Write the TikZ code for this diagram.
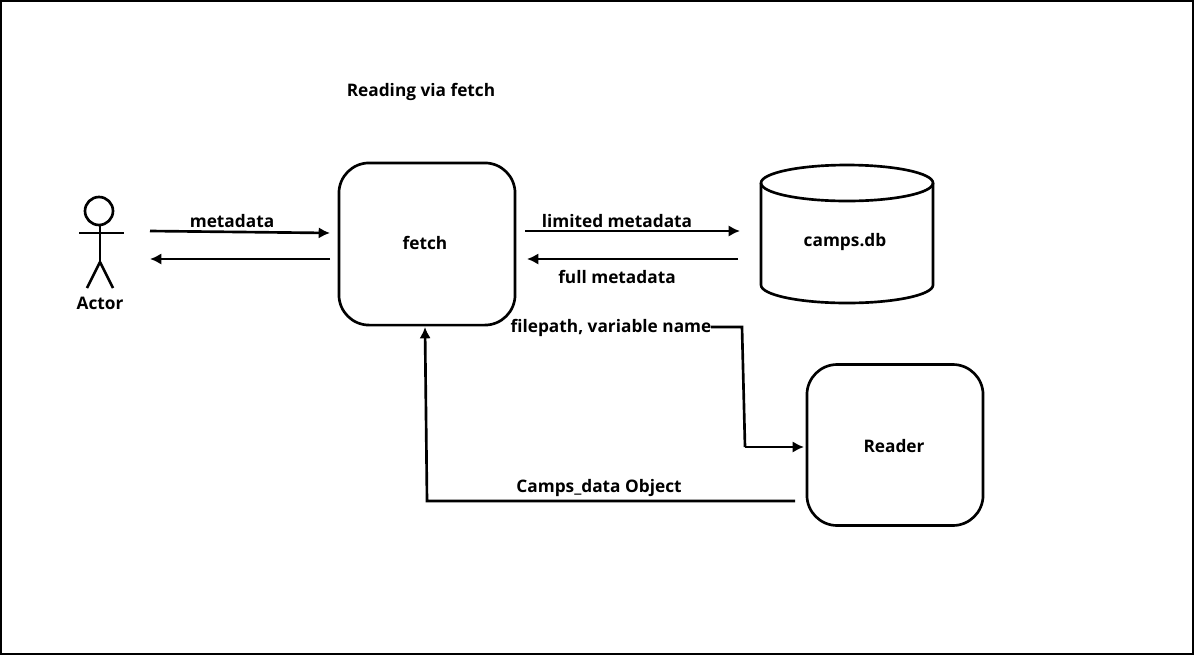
\documentclass[tikz,border=0pt]{standalone}
\usepackage{fontspec}
\setmainfont{Open Sans}
\usetikzlibrary{arrows.meta}
\tikzset{>={Latex[length=8.5pt,width=8.5pt]}}
\tikzset{
  box/.style = {draw,line width=2pt,rounded corners=0.8cm,inner sep=0pt},
  line/.style = {line width=2pt},
  flow/.style = {->,line width=2pt},
  lbl/.style = {font=\fontsize{13}{15}\selectfont\bfseries,inner sep=0pt}
}
\begin{document}
\begin{tikzpicture}[x=0.02646cm,y=-0.02646cm]
  \useasboundingbox (0,0) rectangle (1194,655);
  \draw[line width=2pt] (1,1) rectangle (1193,654);
  % 
  \node[lbl] (title) at (421,92) {Reading via fetch};
  % 
  \node[box,minimum width=4.66cm,minimum height=4.29cm] (fetch) at (427,244) {};
  \node[lbl] (fetchtext) at (425,243) {fetch};
  \node[box,minimum width=4.66cm,minimum height=4.26cm] (reader) at (895,445) {};
  \node[lbl] (readertext) at (894,446) {Reader};
  % Database
  \draw[line] (847,183) ellipse [x radius=86,y radius=18];
  \draw[line] (761,183) -- (761,285) arc[start angle=180,end angle=0,x radius=86,y radius=18] -- (933,183);
  \node[lbl] (db) at (845,242) {camps.db};
  % Actor
  \draw[line] (99,211) circle (14);
  \coordinate (neck) at (100,225);
  \coordinate (hip) at (100,262);
  \draw[line] (neck) -- (hip);
  \draw[line] (79,233) -- (124,233);
  \draw[line] (hip) -- (87,288);
  \draw[line] (hip) -- (113,288);
  \node[lbl] (actor) at (100,303) {Actor};
  % 
  \coordinate (a1) at (150,231);
  \coordinate (a2) at (330,233);
  \coordinate (a3) at (330,259);
  \coordinate (a4) at (150,259);
  \draw[flow] (a1) -- (a2);
  \draw[flow] (a3) -- (a4);
  \node[lbl] (metadata) at (232,221) {metadata};
  % 
  \coordinate (b1) at (525,231);
  \coordinate (b2) at (740,231);
  \coordinate (b3) at (738,259);
  \coordinate (b4) at (527,259);
  \draw[flow] (b1) -- (b2);
  \draw[flow] (b3) -- (b4);
  \node[lbl] (limited) at (617,221) {limited metadata};
  \node[lbl] (full) at (617,277) {full metadata};
  % 
  \node[lbl] (filepath) at (611,328) {filepath, variable name};
  \coordinate (c0) at (711,327);
  \coordinate (c1) at (742,327);
  \coordinate (c2) at (745,447);
  \coordinate (c3) at (804,447);
  \draw[line] (c0) -- (c1) -- (c2);
  \draw[flow] (c2) -- (c3);
  % 
  \coordinate (d0) at (795,501);
  \coordinate (d1) at (427,501);
  \coordinate (d2) at (425,327);
  \draw[flow] (d0) -- (d1) -- (d2);
  \node[lbl] (campsdata) at (599,488) {Camps\_data Object};
\end{tikzpicture}
\end{document}
